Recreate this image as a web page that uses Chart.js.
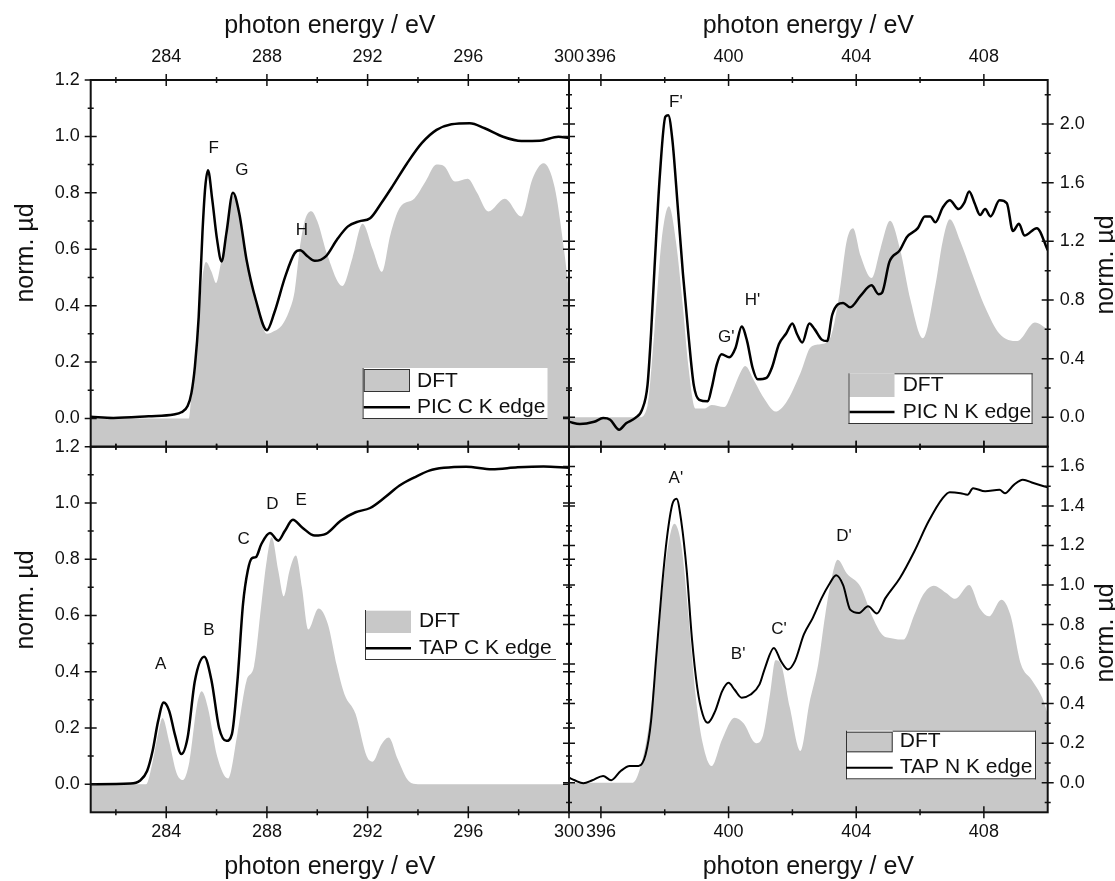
<!DOCTYPE html>
<html>
<head>
<meta charset="utf-8">
<title>C and N K edge NEXAFS - PIC / TAP</title>
<script src="https://cdn.jsdelivr.net/npm/chart.js@4.4.0/dist/chart.umd.min.js"></script>
<style>
  html, body { margin: 0; padding: 0; background: #fff; }
  #wrap { position: relative; width: 1115px; height: 881px; }
  #wrap canvas { position: absolute; left: 0; top: 0; }
</style>
</head>
<body>
<div id="wrap">
  <canvas id="picC" width="1115" height="881"></canvas>
  <canvas id="picN" width="1115" height="881"></canvas>
  <canvas id="tapC" width="1115" height="881"></canvas>
  <canvas id="tapN" width="1115" height="881"></canvas>
</div>
<script>
// ---- data (photon energy in eV, normalised mu d) ----

// PIC C K edge (measured)
const picC_E  = [281.0, 281.9, 283.3, 284.3, 284.6, 284.85, 285.0, 285.14, 285.29, 285.44, 285.55, 285.66, 285.83, 286.02, 286.2, 286.39, 286.65, 286.9, 287.19, 287.56, 288.0, 288.29, 288.73, 289.1, 289.32, 289.61, 289.9, 290.34, 290.78, 291.22, 291.66, 292.1, 292.54, 292.98, 293.57, 294.15, 294.74, 295.33, 296.06, 296.65, 297.38, 298.11, 298.84, 299.58, 300.0];
const picC_mu = [0.006, 0.002, 0.008, 0.014, 0.022, 0.044, 0.09, 0.185, 0.36, 0.66, 0.82, 0.88, 0.775, 0.634, 0.557, 0.657, 0.80, 0.728, 0.563, 0.42, 0.313, 0.374, 0.504, 0.586, 0.596, 0.575, 0.559, 0.575, 0.634, 0.681, 0.699, 0.71, 0.763, 0.822, 0.905, 0.976, 1.023, 1.043, 1.047, 1.029, 0.999, 0.984, 0.985, 0.999, 0.994];
// PIC C K edge (DFT)
const dftPicC_E  = [281.0, 284.9, 285.0, 285.2, 285.44, 285.58, 285.8, 285.98, 286.17, 286.4, 286.65, 286.9, 287.19, 287.56, 288.0, 288.29, 288.59, 288.88, 289.1, 289.3, 289.5, 289.76, 290.0, 290.4, 291.0, 291.4, 291.8, 292.2, 292.57, 292.9, 293.27, 293.86, 294.3, 294.74, 295.03, 295.47, 295.98, 296.35, 296.79, 297.45, 298.11, 298.55, 298.99, 299.43, 299.8, 300.0];
const dftPicC_mu = [0, 0, 0.08, 0.25, 0.5, 0.555, 0.52, 0.48, 0.55, 0.66, 0.79, 0.72, 0.56, 0.42, 0.30, 0.31, 0.33, 0.38, 0.45, 0.6, 0.7, 0.735, 0.7, 0.58, 0.47, 0.57, 0.69, 0.6, 0.52, 0.65, 0.746, 0.78, 0.84, 0.9, 0.895, 0.84, 0.85, 0.80, 0.734, 0.779, 0.716, 0.85, 0.905, 0.82, 0.6, 0.45];

// PIC N K edge (measured)
const picN_E  = [395.0, 395.34, 395.79, 396.07, 396.29, 396.57, 396.79, 397.07, 397.29, 397.46, 397.57, 397.68, 397.85, 398.02, 398.11, 398.24, 398.41, 398.57, 398.74, 398.91, 399.08, 399.35, 399.47, 399.63, 399.78, 400.02, 400.22, 400.41, 400.58, 400.75, 400.91, 401.19, 401.36, 401.58, 401.8, 402.0, 402.14, 402.31, 402.53, 402.7, 402.92, 403.09, 403.25, 403.59, 403.81, 404.14, 404.48, 404.7, 404.81, 405.04, 405.37, 405.59, 405.93, 406.15, 406.32, 406.48, 406.71, 406.93, 407.21, 407.38, 407.54, 407.71, 407.88, 408.04, 408.21, 408.49, 408.72, 408.91, 409.1, 409.27, 409.66, 410.0];
const picN_mu = [-0.03, -0.046, -0.03, -0.005, -0.016, -0.084, -0.04, -0.005, 0.053, 0.22, 0.57, 1.02, 1.66, 2.05, 2.06, 1.89, 1.43, 0.98, 0.57, 0.22, 0.12, 0.11, 0.2, 0.36, 0.43, 0.41, 0.475, 0.62, 0.52, 0.34, 0.26, 0.27, 0.34, 0.5, 0.57, 0.64, 0.57, 0.51, 0.64, 0.6, 0.53, 0.52, 0.70, 0.78, 0.75, 0.83, 0.90, 0.84, 0.85, 1.06, 1.14, 1.23, 1.29, 1.37, 1.37, 1.33, 1.43, 1.48, 1.42, 1.46, 1.54, 1.46, 1.38, 1.42, 1.37, 1.48, 1.46, 1.27, 1.32, 1.24, 1.29, 1.14];
// PIC N K edge (DFT)
const dftPicN_E  = [395.0, 397.2, 397.46, 397.68, 397.9, 398.13, 398.35, 398.57, 398.74, 398.96, 399.24, 399.47, 399.86, 400.13, 400.36, 400.52, 400.8, 401.14, 401.47, 401.8, 402.25, 402.58, 402.92, 403.2, 403.48, 403.7, 403.9, 404.14, 404.48, 404.76, 405.06, 405.37, 405.7, 406.09, 406.48, 406.71, 406.93, 407.26, 407.6, 408.04, 408.49, 409.05, 409.6, 410.0];
const dftPicN_mu = [0, 0, 0.08, 0.6, 1.2, 1.44, 1.2, 0.75, 0.35, 0.06, 0.06, 0.085, 0.07, 0.18, 0.3, 0.35, 0.25, 0.12, 0.04, 0.1, 0.3, 0.48, 0.5, 0.55, 0.85, 1.2, 1.29, 1.1, 0.95, 1.15, 1.34, 1.15, 0.8, 0.54, 0.9, 1.2, 1.35, 1.2, 1.0, 0.75, 0.57, 0.52, 0.646, 0.6];

// TAP C K edge (measured)
const tapC_E  = [281.0, 282.58, 282.95, 283.24, 283.46, 283.68, 283.9, 284.12, 284.34, 284.6, 284.85, 285.14, 285.51, 285.8, 286.1, 286.39, 286.61, 286.83, 287.05, 287.24, 287.41, 287.56, 287.78, 288.12, 288.45, 288.71, 289.03, 289.4, 289.9, 290.34, 290.93, 291.52, 292.1, 292.69, 293.27, 293.86, 294.45, 295.03, 295.91, 296.94, 297.96, 298.99, 300.0];
const tapC_mu = [0.0, 0.002, 0.012, 0.047, 0.119, 0.225, 0.29, 0.26, 0.178, 0.107, 0.166, 0.368, 0.453, 0.368, 0.20, 0.154, 0.178, 0.368, 0.64, 0.76, 0.804, 0.807, 0.854, 0.893, 0.866, 0.90, 0.94, 0.913, 0.884, 0.89, 0.937, 0.967, 0.982, 1.02, 1.062, 1.091, 1.115, 1.125, 1.129, 1.12, 1.127, 1.13, 1.125];
// TAP C K edge (DFT)
const dftTapC_E  = [281.0, 283.2, 283.46, 283.68, 283.85, 284.12, 284.41, 284.66, 284.92, 285.22, 285.41, 285.66, 286.02, 286.46, 286.83, 287.19, 287.49, 287.78, 288.0, 288.19, 288.45, 288.67, 288.9, 289.15, 289.39, 289.64, 290.05, 290.42, 290.78, 291.08, 291.52, 291.96, 292.2, 292.54, 292.84, 293.19, 293.64, 294.0, 300.0];
const dftTapC_mu = [0, 0, 0.08, 0.18, 0.235, 0.15, 0.04, 0.015, 0.08, 0.28, 0.33, 0.27, 0.1, 0.02, 0.18, 0.368, 0.42, 0.64, 0.8, 0.878, 0.76, 0.668, 0.76, 0.813, 0.7, 0.55, 0.625, 0.57, 0.42, 0.32, 0.25, 0.1, 0.08, 0.14, 0.166, 0.09, 0.01, 0, 0];

// TAP N K edge (measured)
const tapN_E  = [395.0, 395.18, 395.45, 395.73, 396.07, 396.32, 396.62, 396.9, 397.18, 397.4, 397.57, 397.74, 397.91, 398.07, 398.24, 398.37, 398.52, 398.69, 398.85, 399.02, 399.19, 399.35, 399.58, 399.8, 400.0, 400.19, 400.41, 400.69, 400.97, 401.14, 401.42, 401.64, 401.86, 402.08, 402.36, 402.64, 402.92, 403.14, 403.37, 403.59, 403.81, 404.09, 404.37, 404.65, 404.92, 405.37, 405.82, 406.26, 406.71, 406.93, 407.27, 407.49, 407.66, 408.04, 408.49, 408.66, 408.94, 409.22, 409.55, 410.0];
const tapN_mu = [0.025, 0.012, -0.003, 0.012, 0.034, 0.012, 0.059, 0.084, 0.084, 0.143, 0.31, 0.65, 0.985, 1.24, 1.41, 1.437, 1.32, 1.07, 0.733, 0.48, 0.345, 0.303, 0.362, 0.463, 0.505, 0.47, 0.43, 0.446, 0.497, 0.58, 0.682, 0.615, 0.573, 0.615, 0.75, 0.834, 0.935, 1.0, 1.05, 1.0, 0.876, 0.859, 0.893, 0.856, 0.935, 1.036, 1.17, 1.32, 1.44, 1.47, 1.465, 1.457, 1.49, 1.474, 1.482, 1.465, 1.507, 1.533, 1.516, 1.494];
// TAP N K edge (DFT)
const dftTapN_E  = [395.0, 397.0, 397.24, 397.51, 397.74, 398.02, 398.3, 398.52, 398.74, 398.96, 399.19, 399.47, 399.8, 400.19, 400.47, 400.86, 401.08, 401.3, 401.47, 401.64, 401.92, 402.25, 402.53, 402.81, 403.03, 403.25, 403.42, 403.7, 404.14, 404.48, 404.81, 405.14, 405.48, 405.82, 406.09, 406.43, 406.82, 407.1, 407.54, 407.88, 408.16, 408.55, 408.83, 409.16, 409.5, 409.83, 410.0];
const dftTapN_mu = [0, 0, 0.08, 0.3, 0.65, 1.1, 1.31, 1.2, 0.85, 0.45, 0.2, 0.084, 0.22, 0.328, 0.3, 0.2, 0.24, 0.45, 0.62, 0.6, 0.38, 0.16, 0.4, 0.6, 0.85, 1.05, 1.128, 1.06, 0.99, 0.85, 0.75, 0.73, 0.724, 0.85, 0.95, 0.997, 0.96, 0.93, 1.0, 0.88, 0.842, 0.926, 0.85, 0.6, 0.52, 0.43, 0.35];

// peak letters: [label, energy, mu]
const peaksPicC = [['F', 285.89, 0.958], ['G', 287.0, 0.879], ['H', 289.39, 0.667]];
const peaksPicN = [["F'", 398.35, 2.148], ["G'", 399.93, 0.543], ["H'", 400.75, 0.795]];
const peaksTapC = [['A', 283.78, 0.427], ['B', 285.7, 0.546], ['C', 287.08, 0.87], ['D', 288.22, 0.996], ['E', 289.36, 1.008]];
const peaksTapN = [["A'", 398.35, 1.541], ["B'", 400.3, 0.648], ["C'", 401.58, 0.775], ["D'", 403.62, 1.246]];

// tick values
const xTicksC   = [284, 288, 292, 296, 300];
const xMinorC   = [282, 286, 290, 294, 298];
const xTicksN   = [396, 400, 404, 408];
const xMinorN   = [398, 402, 406];
const yTicksC   = [0, 0.2, 0.4, 0.6, 0.8, 1.0, 1.2];
const yMinorC   = [0.1, 0.3, 0.5, 0.7, 0.9, 1.1];
const yTicksPicN = [0, 0.4, 0.8, 1.2, 1.6, 2.0];
const yMinorPicN = [0.2, 0.6, 1.0, 1.4, 1.8, 2.2];
const yTicksTapN = [0, 0.2, 0.4, 0.6, 0.8, 1.0, 1.2, 1.4, 1.6];
const yMinorTapN = [-0.1, 0.1, 0.3, 0.5, 0.7, 0.9, 1.1, 1.3, 1.5];

// ---- styling ----
const FONT = "'Liberation Sans', Arial, Helvetica, sans-serif";
const GREY = '#c8c8c8';
const INK = '#111';
Chart.defaults.font.family = FONT;
Chart.defaults.color = INK;

// frame, tick marks, y title, legend and peak letters
const panelDecor = {
    id: 'panelDecor',
    afterDraw(chart, args, o) {
        const ctx = chart.ctx;
        const a = chart.chartArea;
        const xs = chart.scales.x;
        const ys = chart.scales.y;
        ctx.save();

        // legend box
        const lg = o.legend;
        if (lg) {
            const [bx1, by1, bx2, by2] = lg.box;
            ctx.fillStyle = '#fff';
            ctx.fillRect(bx1, by1, bx2 - bx1, by2 - by1);
            const [sx1, sy1, sx2, sy2] = lg.swatch;
            ctx.fillStyle = GREY;
            ctx.fillRect(sx1, sy1, sx2 - sx1, sy2 - sy1);
            ctx.strokeStyle = '#333';
            ctx.lineWidth = 1;
            if (lg.swatchBorder) ctx.strokeRect(sx1 + 0.5, sy1 + 0.5, sx2 - sx1 - 1, sy2 - sy1 - 1);
            ctx.beginPath();
            if (lg.sides.includes('l')) { ctx.moveTo(bx1 + 0.5, by1); ctx.lineTo(bx1 + 0.5, by2); }
            if (lg.sides.includes('b')) { ctx.moveTo(bx1, by2 - 0.5); ctx.lineTo(bx2, by2 - 0.5); }
            if (lg.sides.includes('r')) { ctx.moveTo(bx2 - 0.5, by1); ctx.lineTo(bx2 - 0.5, by2); }
            if (lg.sides.includes('t')) { ctx.moveTo(sx2, by1 + 0.5); ctx.lineTo(bx2, by1 + 0.5); }
            ctx.stroke();
            ctx.strokeStyle = '#000';
            ctx.lineWidth = lg.lineWidth;
            ctx.beginPath();
            ctx.moveTo(sx1, lg.rows[1][1]);
            ctx.lineTo(sx2, lg.rows[1][1]);
            ctx.stroke();
            ctx.fillStyle = INK;
            ctx.font = '21px ' + FONT;
            ctx.textAlign = 'left';
            ctx.textBaseline = 'middle';
            lg.rows.forEach(r => ctx.fillText(r[0], lg.textX, r[1]));
        }

        // peak letters
        ctx.fillStyle = INK;
        ctx.font = '17px ' + FONT;
        ctx.textAlign = 'center';
        ctx.textBaseline = 'middle';
        o.peaks.forEach(p => ctx.fillText(p[0], xs.getPixelForValue(p[1]), ys.getPixelForValue(p[2])));

        // frame
        ctx.strokeStyle = INK;
        ctx.lineWidth = 2;
        ctx.strokeRect(a.left, a.top, a.right - a.left, a.bottom - a.top);

        // tick marks crossing every side
        ctx.lineWidth = 1.5;
        ctx.beginPath();
        const xt = (vals, h) => vals.forEach(v => {
            const px = xs.getPixelForValue(v);
            ctx.moveTo(px, a.top - h); ctx.lineTo(px, a.top + h);
            ctx.moveTo(px, a.bottom - h); ctx.lineTo(px, a.bottom + h);
        });
        const yt = (vals, h) => vals.forEach(v => {
            const py = ys.getPixelForValue(v);
            ctx.moveTo(a.left - h, py); ctx.lineTo(a.left + h, py);
            ctx.moveTo(a.right - h, py); ctx.lineTo(a.right + h, py);
        });
        xt(o.xMajor, 6); xt(o.xMinor, 3);
        yt(o.yMajor, 6); yt(o.yMinor, 3);
        ctx.stroke();

        // y title, read bottom to top on both sides
        ctx.translate(o.yTitle[0], o.yTitle[1]);
        ctx.rotate(-Math.PI / 2);
        ctx.font = '25px ' + FONT;
        ctx.fillText('norm. µd', 0, 0);
        ctx.restore();
    }
};

const toXY = (xs, ys) => xs.map((x, i) => ({ x: x, y: ys[i] }));

class NexafsPanel {
    constructor(canvasId, cfg) {
        this.canvasId = canvasId;
        this.cfg = cfg;
        this.chart = null;
    }

    getChartData() {
        const c = this.cfg;
        return {
            datasets: [
                {
                    label: c.lineLabel,
                    data: toXY(c.lineE, c.lineMu),
                    borderColor: '#000',
                    borderWidth: c.lineWidth,
                    pointRadius: 0,
                    cubicInterpolationMode: 'monotone',
                    fill: false,
                    order: 0
                },
                {
                    label: 'DFT',
                    data: toXY(c.dftE, c.dftMu),
                    borderWidth: 0,
                    borderColor: GREY,
                    backgroundColor: GREY,
                    pointRadius: 0,
                    cubicInterpolationMode: 'monotone',
                    fill: 'start',
                    order: 1
                }
            ]
        };
    }

    getChartOptions() {
        const c = this.cfg;
        const top = c.xPos === 'top';
        const left = c.yPos === 'left';
        return {
            responsive: false,
            animation: false,
            events: [],
            devicePixelRatio: 1,
            layout: { padding: c.pad },
            scales: {
                x: {
                    type: 'linear',
                    position: c.xPos,
                    min: c.xMin,
                    max: c.xMax,
                    grid: { display: false, drawTicks: false },
                    border: { display: false },
                    afterBuildTicks: s => { s.ticks = c.xTicks.map(v => ({ value: v })); },
                    afterFit: s => { s.height = c.xBand; },
                    ticks: {
                        autoSkip: false,
                        maxRotation: 0,
                        padding: top ? 12 : 9,
                        font: { size: 18 },
                        color: INK,
                        callback: v => String(v)
                    },
                    title: {
                        display: true,
                        text: 'photon energy / eV',
                        font: { size: 25, lineHeight: 1 },
                        color: INK,
                        padding: top ? { top: 14, bottom: 0 } : { top: 0, bottom: 1 }
                    }
                },
                y: {
                    type: 'linear',
                    position: c.yPos,
                    min: c.yMin,
                    max: c.yMax,
                    grid: { display: false, drawTicks: false },
                    border: { display: false },
                    afterBuildTicks: s => { s.ticks = c.yTicks.map(v => ({ value: v })); },
                    afterFit: s => { s.width = c.yBand; },
                    ticks: {
                        padding: left ? 11 : 12,
                        font: { size: 18 },
                        color: INK,
                        callback: v => v.toFixed(1)
                    }
                }
            },
            plugins: {
                legend: { display: false },
                tooltip: { enabled: false },
                panelDecor: {
                    xMajor: c.xTicks, xMinor: c.xMinor,
                    yMajor: c.yTicks, yMinor: c.yMinor,
                    yTitle: c.yTitle,
                    peaks: c.peaks,
                    legend: c.legend
                }
            }
        };
    }

    createChart() {
        const ctx = document.getElementById(this.canvasId).getContext('2d');
        if (this.chart) this.chart.destroy();
        this.chart = new Chart(ctx, {
            type: 'line',
            data: this.getChartData(),
            options: this.getChartOptions(),
            plugins: [panelDecor]
        });
    }
}

// panel frame: left panels 91..569, right panels 569..1048; rows 80..447, 447..812
new NexafsPanel('picC', {
    lineLabel: 'PIC C K edge', lineE: picC_E, lineMu: picC_mu, lineWidth: 2.5,
    dftE: dftPicC_E, dftMu: dftPicC_mu,
    xPos: 'top', xMin: 281, xMax: 300, xTicks: xTicksC, xMinor: xMinorC, xBand: 80,
    yPos: 'left', yMin: -0.1, yMax: 1.2, yTicks: yTicksC, yMinor: yMinorC, yBand: 90.7,
    pad: { left: 0, top: 0, right: 546, bottom: 434.3 },
    yTitle: [26, 253],
    peaks: peaksPicC,
    legend: {
        box: [362.6, 368, 547.5, 419], sides: 'lb',
        swatch: [363.7, 369, 410, 392], swatchBorder: true, lineWidth: 2.5,
        textX: 417, rows: [['DFT', 381], ['PIC C K edge', 407.3]]
    }
}).createChart();

new NexafsPanel('picN', {
    lineLabel: 'PIC N K edge', lineE: picN_E, lineMu: picN_mu, lineWidth: 2.5,
    dftE: dftPicN_E, dftMu: dftPicN_mu,
    xPos: 'top', xMin: 395, xMax: 410, xTicks: xTicksN, xMinor: xMinorN, xBand: 80,
    yPos: 'right', yMin: -0.2, yMax: 2.3, yTicks: yTicksPicN, yMinor: yMinorPicN, yBand: 67.3,
    pad: { left: 569, top: 0, right: 0, bottom: 434.3 },
    yTitle: [1106, 265],
    peaks: peaksPicN,
    legend: {
        box: [848.5, 373.3, 1032.6, 424], sides: 'lbrt',
        swatch: [849.6, 373.3, 894.5, 397], swatchBorder: false, lineWidth: 2.5,
        textX: 902.7, rows: [['DFT', 385.7], ['PIC N K edge', 412]]
    }
}).createChart();

new NexafsPanel('tapC', {
    lineLabel: 'TAP C K edge', lineE: tapC_E, lineMu: tapC_mu, lineWidth: 2.5,
    dftE: dftTapC_E, dftMu: dftTapC_mu,
    xPos: 'bottom', xMin: 281, xMax: 300, xTicks: xTicksC, xMinor: xMinorC, xBand: 68.7,
    yPos: 'left', yMin: -0.1, yMax: 1.2, yTicks: yTicksC, yMinor: yMinorC, yBand: 90.7,
    pad: { left: 0, top: 446.7, right: 546, bottom: 0 },
    yTitle: [26, 600],
    peaks: peaksTapC,
    legend: {
        box: [365, 610, 556, 660], sides: 'lb',
        swatch: [366, 610.7, 411, 633], swatchBorder: false, lineWidth: 2.5,
        textX: 419, rows: [['DFT', 621.7], ['TAP C K edge', 648.3]]
    }
}).createChart();

new NexafsPanel('tapN', {
    lineLabel: 'TAP N K edge', lineE: tapN_E, lineMu: tapN_mu, lineWidth: 2,
    dftE: dftTapN_E, dftMu: dftTapN_mu,
    xPos: 'bottom', xMin: 395, xMax: 410, xTicks: xTicksN, xMinor: xMinorN, xBand: 68.7,
    yPos: 'right', yMin: -0.15, yMax: 1.7, yTicks: yTicksTapN, yMinor: yMinorTapN, yBand: 67.3,
    pad: { left: 569, top: 446.7, right: 0, bottom: 0 },
    yTitle: [1106, 633],
    peaks: peaksTapN,
    legend: {
        box: [846, 730.7, 1036, 779.3], sides: 'lbrt',
        swatch: [846, 731.7, 892.7, 752.3], swatchBorder: true, lineWidth: 2,
        textX: 899.8, rows: [['DFT', 741.7], ['TAP N K edge', 767.7]]
    }
}).createChart();
</script>
</body>
</html>
